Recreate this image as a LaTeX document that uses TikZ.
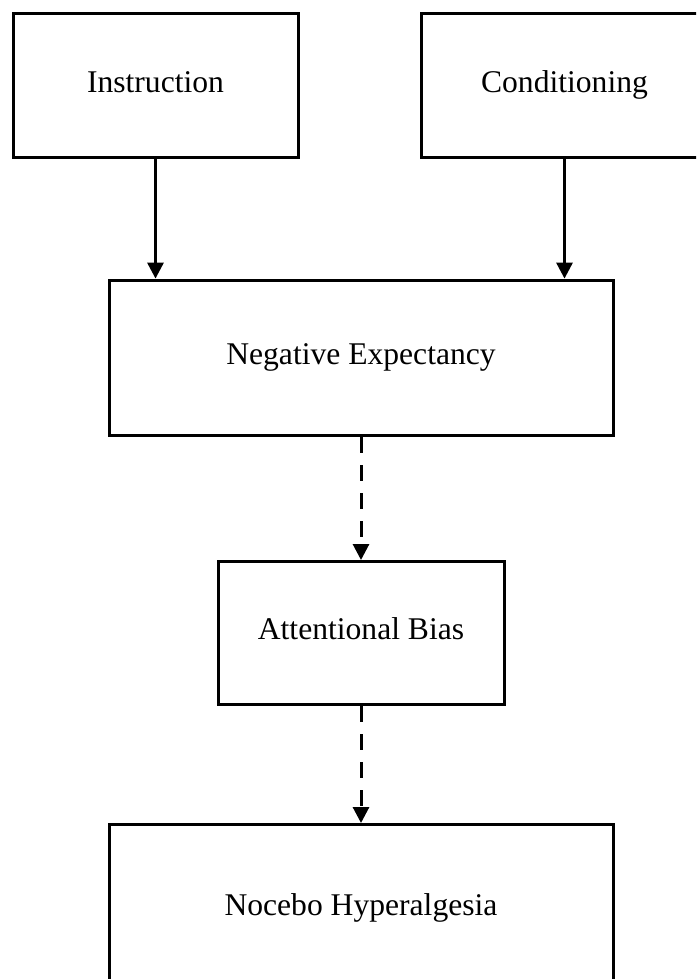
\documentclass[tikz,border=0pt]{standalone}
\usepackage{fontspec}
\setmainfont{Liberation Serif}
\usepackage{tikz}
\usetikzlibrary{arrows.meta, positioning}

\begin{document}
\begin{tikzpicture}[
	x=0.5pt, y=-0.5pt,
	% Styles
	box/.style = {draw, rectangle, line width=1.5pt, align=center,
		font=\fontsize{15.8}{19}\selectfont, text height=0.66em, text depth=0pt},
	cause arrow/.style = {line width=1.5pt, -{Triangle[length=8pt, width=8pt]}},
	bias arrow/.style = {cause arrow, dash pattern=on 8pt off 6pt}
	]
	
	% Frame (picture is cut at right and bottom)
	\useasboundingbox (0,0) rectangle (696,979);
	\clip (0,0) rectangle (696,979);
	
	% Top row: the two sources
	\node[box, minimum width=142.5pt, minimum height=71.5pt] (instr) at (155.5,85.5) {Instruction};
	\node[box, minimum width=143.5pt, minimum height=71.5pt, right=60pt of instr] (cond) {Conditioning};
	
	% Middle column
	\node[box, minimum width=252pt, minimum height=77.7pt, anchor=north] (neg) at (361,278.6) {Negative Expectancy};
	\node[box, minimum width=143pt, minimum height=71.5pt, below=61.5pt of neg] (attn) {Attentional Bias};
	\node[box, minimum width=252pt, minimum height=84.5pt, below=58.5pt of attn] (noce) {Nocebo Hyperalgesia};
	
	% Paths
	\draw[cause arrow] (instr.south) -- (instr.south |- neg.north);
	\draw[cause arrow] (cond.south) -- (cond.south |- neg.north);
	
	\draw[bias arrow] (neg) -- (attn);
	\draw[bias arrow] (attn) -- (noce);
	
\end{tikzpicture}
\end{document}
